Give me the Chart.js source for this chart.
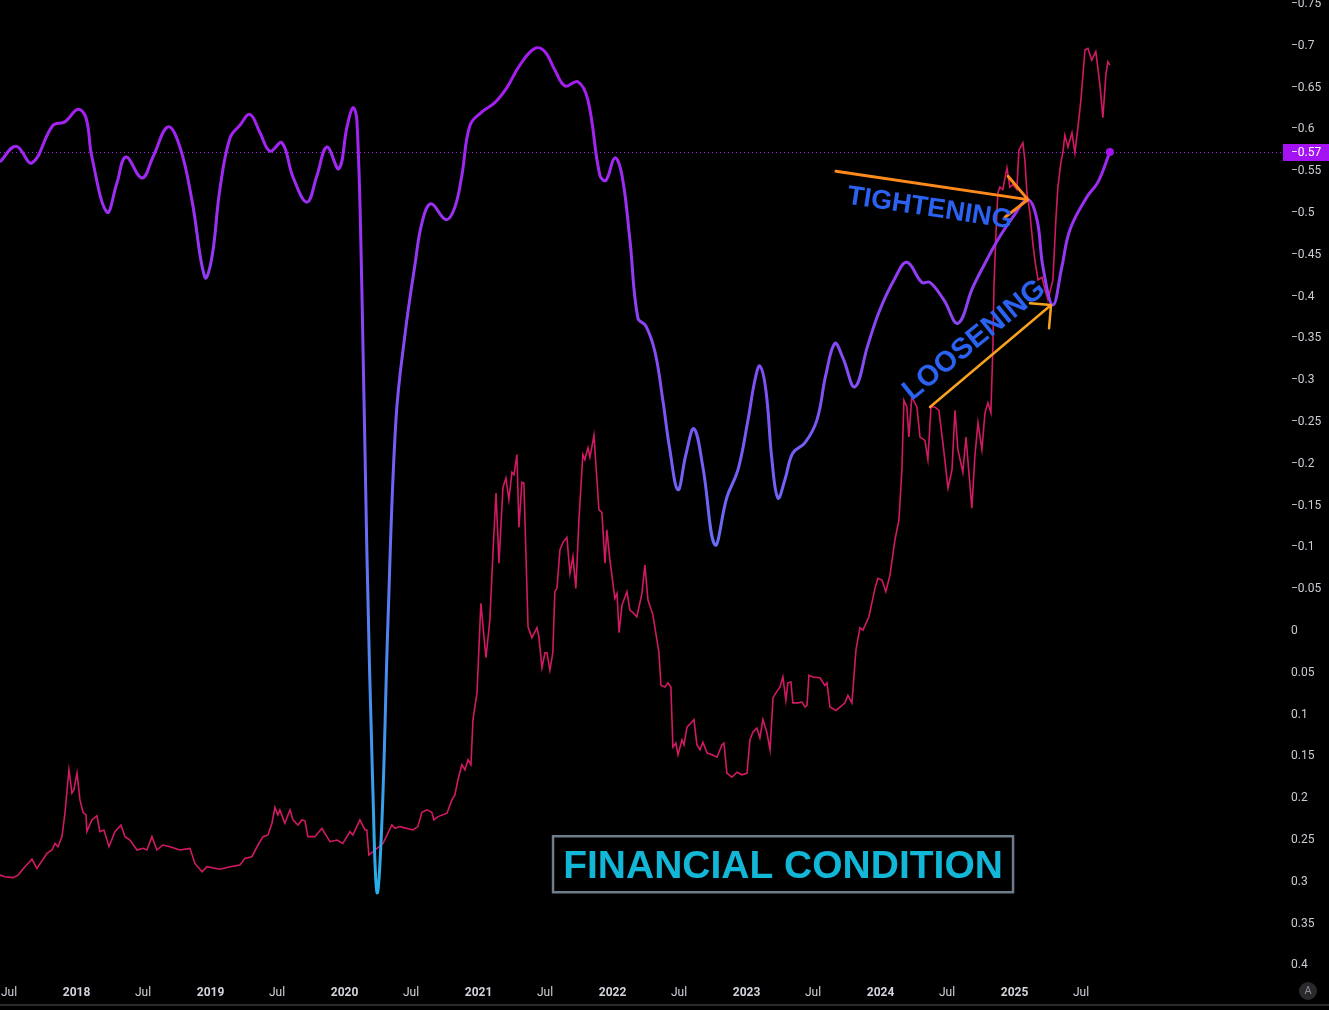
<!DOCTYPE html>
<html>
<head>
<meta charset="utf-8">
<title>Financial Condition</title>
<script src="https://cdn.jsdelivr.net/npm/chart.js@4.4.1/dist/chart.umd.min.js"></script>
<style>
  html, body { margin: 0; padding: 0; background: #000; overflow: hidden; }
  #wrap { width: 1329px; height: 1010px; }
</style>
</head>
<body>
<div id="wrap"><canvas id="chartFinancial" width="1329" height="1010"></canvas></div>
<script>
// x values are decimal years, y values are index readings (axis is inverted)

// weekly index (red line)
var weeklyYears = [
    2017.428, 2017.465, 2017.525, 2017.563, 2017.615, 2017.667, 2017.704, 2017.779, 2017.816, 2017.839,
    2017.861, 2017.891, 2017.913, 2017.943, 2017.965, 2017.980, 2018.003, 2018.025, 2018.048, 2018.070,
    2018.077, 2018.114, 2018.152, 2018.174, 2018.204, 2018.242, 2018.286, 2018.331, 2018.361, 2018.398,
    2018.451, 2018.495, 2018.525, 2018.562, 2018.599, 2018.644, 2018.697, 2018.771, 2018.846, 2018.883,
    2018.936, 2018.973, 2019.069, 2019.145, 2019.219, 2019.256, 2019.308, 2019.354, 2019.391, 2019.428,
    2019.458, 2019.480, 2019.502, 2019.517, 2019.554, 2019.592, 2019.615, 2019.652, 2019.682, 2019.704,
    2019.726, 2019.778, 2019.831, 2019.853, 2019.891, 2019.943, 2019.987, 2020.040, 2020.062, 2020.114,
    2020.152, 2020.166, 2020.181, 2020.242, 2020.287, 2020.353, 2020.376, 2020.413, 2020.510, 2020.547,
    2020.577, 2020.614, 2020.651, 2020.666, 2020.697, 2020.764, 2020.801, 2020.823, 2020.846, 2020.875,
    2020.898, 2020.921, 2020.943, 2020.958, 2020.988, 2021.017, 2021.055, 2021.084, 2021.107, 2021.130,
    2021.152, 2021.182, 2021.204, 2021.226, 2021.249, 2021.264, 2021.286, 2021.301, 2021.323, 2021.338,
    2021.369, 2021.398, 2021.436, 2021.450, 2021.473, 2021.495, 2021.510, 2021.532, 2021.554, 2021.569,
    2021.585, 2021.607, 2021.630, 2021.659, 2021.682, 2021.704, 2021.726, 2021.749, 2021.778, 2021.793,
    2021.816, 2021.831, 2021.861, 2021.883, 2021.898, 2021.920, 2021.943, 2021.957, 2021.980, 2022.017,
    2022.033, 2022.048, 2022.070, 2022.107, 2022.129, 2022.152, 2022.181, 2022.219, 2022.241, 2022.264,
    2022.301, 2022.346, 2022.361, 2022.390, 2022.413, 2022.435, 2022.450, 2022.472, 2022.488, 2022.518,
    2022.533, 2022.555, 2022.585, 2022.607, 2022.629, 2022.652, 2022.674, 2022.705, 2022.742, 2022.779,
    2022.816, 2022.831, 2022.853, 2022.890, 2022.928, 2022.966, 2023.003, 2023.025, 2023.047, 2023.077,
    2023.099, 2023.122, 2023.152, 2023.175, 2023.197, 2023.219, 2023.249, 2023.271, 2023.293, 2023.308,
    2023.331, 2023.345, 2023.384, 2023.413, 2023.436, 2023.451, 2023.465, 2023.495, 2023.547, 2023.584,
    2023.600, 2023.622, 2023.667, 2023.697, 2023.734, 2023.756, 2023.786, 2023.816, 2023.846, 2023.868,
    2023.913, 2023.958, 2023.980, 2024.010, 2024.039, 2024.070, 2024.107, 2024.137, 2024.159, 2024.174,
    2024.196, 2024.211, 2024.233, 2024.271, 2024.294, 2024.331, 2024.353, 2024.376, 2024.405, 2024.435,
    2024.465, 2024.503, 2024.533, 2024.555, 2024.577, 2024.614, 2024.637, 2024.681, 2024.703, 2024.727,
    2024.756, 2024.779, 2024.801, 2024.823, 2024.838, 2024.846, 2024.861, 2024.875, 2024.890, 2024.912,
    2024.943, 2024.965, 2024.987, 2025.017, 2025.032, 2025.062, 2025.077, 2025.092, 2025.114, 2025.136,
    2025.151, 2025.175, 2025.204, 2025.227, 2025.249, 2025.286, 2025.308, 2025.323, 2025.345, 2025.360,
    2025.375, 2025.398, 2025.428, 2025.450, 2025.473, 2025.495, 2025.525, 2025.547, 2025.576, 2025.606,
    2025.637, 2025.659, 2025.681, 2025.696, 2025.711
];
var weeklyValues = [
    0.292, 0.294, 0.295, 0.292, 0.282, 0.273, 0.284, 0.266, 0.262, 0.254,
    0.258, 0.246, 0.218, 0.166, 0.194, 0.190, 0.170, 0.202, 0.217, 0.220,
    0.240, 0.226, 0.221, 0.240, 0.238, 0.258, 0.240, 0.232, 0.246, 0.250,
    0.262, 0.260, 0.262, 0.246, 0.262, 0.256, 0.258, 0.262, 0.260, 0.278,
    0.288, 0.282, 0.285, 0.282, 0.280, 0.272, 0.270, 0.256, 0.246, 0.244,
    0.230, 0.211, 0.220, 0.214, 0.230, 0.214, 0.226, 0.232, 0.226, 0.227,
    0.246, 0.246, 0.236, 0.242, 0.252, 0.250, 0.254, 0.240, 0.244, 0.226,
    0.238, 0.238, 0.268, 0.260, 0.254, 0.232, 0.236, 0.234, 0.238, 0.234,
    0.217, 0.214, 0.217, 0.226, 0.222, 0.218, 0.202, 0.196, 0.178, 0.160,
    0.166, 0.154, 0.160, 0.106, 0.074, -0.033, 0.032, -0.013, -0.093, -0.165,
    -0.081, -0.172, -0.183, -0.157, -0.190, -0.187, -0.211, -0.124, -0.178, -0.177,
    -0.005, 0.008, -0.004, 0.007, 0.044, 0.026, 0.026, 0.047, 0.026, -0.047,
    -0.051, -0.097, -0.106, -0.112, -0.069, -0.089, -0.051, -0.133, -0.211, -0.205,
    -0.219, -0.208, -0.234, -0.181, -0.145, -0.142, -0.081, -0.121, -0.085, -0.039,
    -0.045, 0.002, -0.031, -0.047, -0.025, -0.022, -0.017, -0.045, -0.079, -0.037,
    -0.019, 0.026, 0.065, 0.067, 0.062, 0.067, 0.139, 0.134, 0.148, 0.130,
    0.136, 0.115, 0.110, 0.106, 0.136, 0.142, 0.133, 0.146, 0.148, 0.151,
    0.136, 0.134, 0.170, 0.175, 0.169, 0.172, 0.170, 0.130, 0.121, 0.116,
    0.128, 0.106, 0.122, 0.142, 0.080, 0.074, 0.067, 0.055, 0.083, 0.062,
    0.061, 0.086, 0.086, 0.085, 0.091, 0.089, 0.053, 0.055, 0.056, 0.065,
    0.062, 0.091, 0.095, 0.091, 0.086, 0.077, 0.086, 0.023, -0.004, -0.001,
    -0.017, -0.051, -0.063, -0.061, -0.047, -0.067, -0.109, -0.133, -0.193, -0.276,
    -0.268, -0.232, -0.280, -0.268, -0.232, -0.228, -0.205, -0.268, -0.268, -0.264,
    -0.225, -0.171, -0.193, -0.264, -0.217, -0.190, -0.232, -0.147, -0.208, -0.249,
    -0.217, -0.261, -0.273, -0.261, -0.340, -0.412, -0.476, -0.524, -0.531, -0.528,
    -0.554, -0.531, -0.534, -0.528, -0.575, -0.584, -0.563, -0.524, -0.500, -0.464,
    -0.444, -0.420, -0.423, -0.408, -0.396, -0.420, -0.492, -0.531, -0.560, -0.572,
    -0.593, -0.579, -0.596, -0.572, -0.603, -0.635, -0.695, -0.697, -0.683, -0.693,
    -0.653, -0.614, -0.665, -0.681, -0.677
];

// smoothed index (gradient line)
var smoothYears = [
    2017.428, 2017.548, 2017.667, 2017.824, 2017.913, 2018.010, 2018.070, 2018.114, 2018.227, 2018.301,
    2018.368, 2018.488, 2018.570, 2018.682, 2018.771, 2018.860, 2018.958, 2019.010, 2019.069, 2019.145,
    2019.219, 2019.293, 2019.369, 2019.443, 2019.532, 2019.615, 2019.719, 2019.794, 2019.868, 2019.957,
    2020.018, 2020.062, 2020.092, 2020.129, 2020.166, 2020.211, 2020.242, 2020.279, 2020.324, 2020.383,
    2020.450, 2020.525, 2020.577, 2020.644, 2020.757, 2020.823, 2020.875, 2020.936, 2021.025, 2021.121,
    2021.211, 2021.308, 2021.420, 2021.495, 2021.569, 2021.645, 2021.741, 2021.816, 2021.905, 2021.950,
    2022.017, 2022.070, 2022.129, 2022.189, 2022.248, 2022.316, 2022.375, 2022.427, 2022.488, 2022.547,
    2022.607, 2022.674, 2022.764, 2022.853, 2022.936, 2023.010, 2023.062, 2023.099, 2023.144, 2023.189,
    2023.234, 2023.286, 2023.345, 2023.435, 2023.524, 2023.591, 2023.659, 2023.718, 2023.808, 2023.905,
    2023.994, 2024.107, 2024.196, 2024.308, 2024.368, 2024.472, 2024.577, 2024.688, 2024.793, 2024.875,
    2024.987, 2025.099, 2025.167, 2025.212, 2025.286, 2025.352, 2025.413, 2025.539, 2025.622, 2025.711
];
var smoothValues = [
    -0.561, -0.580, -0.560, -0.605, -0.609, -0.624, -0.614, -0.567, -0.501, -0.536,
    -0.567, -0.542, -0.567, -0.603, -0.579, -0.516, -0.423, -0.447, -0.528, -0.590,
    -0.605, -0.618, -0.596, -0.574, -0.584, -0.543, -0.513, -0.545, -0.579, -0.553,
    -0.603, -0.626, -0.611, -0.408, -0.097, 0.190, 0.313, 0.226, -0.013, -0.252,
    -0.354, -0.438, -0.488, -0.511, -0.492, -0.507, -0.545, -0.605, -0.621, -0.632,
    -0.650, -0.677, -0.697, -0.693, -0.671, -0.652, -0.657, -0.635, -0.545, -0.539,
    -0.566, -0.545, -0.468, -0.374, -0.365, -0.334, -0.276, -0.217, -0.169, -0.211,
    -0.242, -0.196, -0.103, -0.160, -0.193, -0.252, -0.300, -0.317, -0.288, -0.205,
    -0.159, -0.181, -0.213, -0.225, -0.252, -0.306, -0.344, -0.327, -0.292, -0.342,
    -0.384, -0.422, -0.441, -0.417, -0.417, -0.396, -0.368, -0.411, -0.444, -0.468,
    -0.495, -0.516, -0.492, -0.435, -0.390, -0.435, -0.480, -0.519, -0.537, -0.573
];

var yTicks = [-0.75, -0.7, -0.65, -0.6, -0.55, -0.5, -0.45, -0.4, -0.35, -0.3, -0.25, -0.2,
    -0.15, -0.1, -0.05, 0, 0.05, 0.1, 0.15, 0.2, 0.25, 0.3, 0.35, 0.4];
var xTickValues = [2017.496, 2018, 2018.496, 2019, 2019.496, 2020, 2020.496, 2021, 2021.496,
    2022, 2022.496, 2023, 2023.496, 2024, 2024.496, 2025, 2025.496];
var xTickLabels = ['Jul', '2018', 'Jul', '2019', 'Jul', '2020', 'Jul', '2021', 'Jul',
    '2022', 'Jul', '2023', 'Jul', '2024', 'Jul', '2025', 'Jul'];

var axisFont = "Roboto, 'Liberation Sans', sans-serif";
var noteFont = "'Liberation Sans', Arial, sans-serif";

// drawn annotations, placed in data units
var notes = [
    { text: 'TIGHTENING', x: 2024.369, y: -0.508, angle: 8.6, size: 27, color: '#2b62f2' },
    { text: 'LOOSENING', x: 2024.688, y: -0.350, angle: -39, size: 29, color: '#2b62f2' }
];
var arrows = [
    { color: '#ff8a1c', width: 3, from: [2023.667, -0.550], to: [2025.100, -0.516],
      head: [[2024.951, -0.544], [2024.928, -0.495]] },
    { color: '#f8a21e', width: 2.5, from: [2024.369, -0.268], to: [2025.272, -0.390],
      head: [[2025.115, -0.392], [2025.257, -0.362]] }
];
var titleBox = { text: 'FINANCIAL CONDITION', x: 2023.272, y: 0.279, w: 460, h: 56, size: 39 };

function toPoints(xs, ys) {
    return xs.map(function(x, i) { return { x: x, y: ys[i] }; });
}

function fmt(v) {
    return String(Number(v.toFixed(2))).replace('-', '\u2212');
}

function smoothGradient(context) {
    var chart = context.chart;
    if (!chart.chartArea) return '#a61df0';
    var ys = chart.scales.y;
    var g = chart.ctx.createLinearGradient(0, ys.getPixelForValue(-0.65), 0, ys.getPixelForValue(0.3));
    g.addColorStop(0, '#a61df0');
    g.addColorStop(0.158, '#9b30f3');
    g.addColorStop(0.316, '#8848f5');
    g.addColorStop(0.526, '#6d66f6');
    g.addColorStop(0.737, '#4c8af0');
    g.addColorStop(1, '#2aaee8');
    return g;
}

var lastValue = smoothValues[smoothValues.length - 1];

var chartDecor = {
    id: 'chartDecor',
    beforeDraw: function(chart) {
        var c = chart.ctx;
        c.save();
        c.fillStyle = '#000';
        c.fillRect(0, 0, chart.width, chart.height);
        c.restore();
    },
    beforeDatasetsDraw: function(chart) {
        var c = chart.ctx, a = chart.chartArea;
        var py = Math.round(chart.scales.y.getPixelForValue(lastValue)) + 0.5;
        c.save();
        c.strokeStyle = '#a31cf0';
        c.lineWidth = 1;
        c.setLineDash([1, 3]);
        c.beginPath();
        c.moveTo(a.left, py);
        c.lineTo(a.right, py);
        c.stroke();
        c.restore();
    },
    afterDraw: function(chart) {
        var c = chart.ctx, a = chart.chartArea;
        var sx = chart.scales.x, sy = chart.scales.y;
        function px(p) { return [sx.getPixelForValue(p[0]), sy.getPixelForValue(p[1])]; }

        // arrows
        arrows.forEach(function(ar) {
            var f = px(ar.from), t = px(ar.to);
            c.save();
            c.strokeStyle = ar.color;
            c.lineWidth = ar.width;
            c.lineCap = 'round';
            c.beginPath();
            c.moveTo(f[0], f[1]);
            c.lineTo(t[0], t[1]);
            ar.head.forEach(function(h) {
                var hp = px(h);
                c.moveTo(hp[0], hp[1]);
                c.lineTo(t[0], t[1]);
            });
            c.stroke();
            c.restore();
        });

        // rotated labels
        notes.forEach(function(n) {
            var p = px([n.x, n.y]);
            c.save();
            c.translate(p[0], p[1]);
            c.rotate(n.angle * Math.PI / 180);
            c.font = 'bold ' + n.size + 'px ' + noteFont;
            c.fillStyle = n.color;
            c.textAlign = 'center';
            c.textBaseline = 'alphabetic';
            c.fillText(n.text, 0, n.size * 0.36);
            c.restore();
        });

        // title box
        var tp = px([titleBox.x, titleBox.y]);
        c.save();
        c.fillStyle = '#000';
        c.fillRect(tp[0] - titleBox.w / 2, tp[1] - titleBox.h / 2, titleBox.w, titleBox.h);
        c.strokeStyle = '#6f7c8a';
        c.lineWidth = 2.5;
        c.strokeRect(tp[0] - titleBox.w / 2, tp[1] - titleBox.h / 2, titleBox.w, titleBox.h);
        c.font = 'bold ' + titleBox.size + 'px ' + noteFont;
        c.fillStyle = '#12b6d6';
        c.textAlign = 'center';
        c.textBaseline = 'alphabetic';
        c.fillText(titleBox.text, tp[0], tp[1] + titleBox.size * 0.36);
        c.restore();

        // last value tag on the price axis
        var ly = sy.getPixelForValue(lastValue);
        c.save();
        c.fillStyle = '#a512f2';
        c.fillRect(a.right, Math.round(ly) - 8, chart.width - a.right, 17);
        c.fillStyle = '#ffffff';
        c.font = '12px ' + axisFont;
        c.textBaseline = 'middle';
        c.textAlign = 'left';
        c.fillText(fmt(lastValue), a.right + 8, Math.round(ly) + 0.5);
        c.restore();

        // bottom bar and auto-scale button
        c.save();
        c.fillStyle = '#2a2a2e';
        c.fillRect(0, chart.height - 6, chart.width, 2);
        c.beginPath();
        c.arc(chart.width - 21, 991, 9, 0, Math.PI * 2);
        c.fillStyle = '#2a2a2c';
        c.fill();
        c.fillStyle = '#8a8d94';
        c.font = '11px ' + axisFont;
        c.textAlign = 'center';
        c.textBaseline = 'middle';
        c.fillText('A', chart.width - 21, 991.5);
        c.restore();
    }
};

var ctx = document.getElementById('chartFinancial');
var chartFinancial = new Chart(ctx, {
    type: 'line',
    data: {
        datasets: [{
            label: 'Smoothed',
            data: toPoints(smoothYears, smoothValues),
            borderColor: smoothGradient,
            borderWidth: 3,
            tension: 0.4,
            pointRadius: function(c) { return c.dataIndex === smoothValues.length - 1 ? 4 : 0; },
            pointBackgroundColor: '#a512f2',
            pointBorderWidth: 0,
            order: 0
        }, {
            label: 'Weekly',
            data: toPoints(weeklyYears, weeklyValues),
            borderColor: '#d11a63',
            borderWidth: 1.6,
            tension: 0,
            pointRadius: 0,
            order: 1
        }]
    },
    options: {
        responsive: false,
        animation: false,
        devicePixelRatio: 1,
        layout: { padding: 0, autoPadding: false },
        plugins: {
            legend: { display: false },
            tooltip: { enabled: false }
        },
        scales: {
            x: {
                type: 'linear',
                min: 2017.4284,
                max: 2027.003,
                grid: { display: false, drawTicks: false },
                border: { display: false },
                afterBuildTicks: function(s) {
                    s.ticks = xTickValues.map(function(v) { return { value: v }; });
                },
                afterFit: function(s) {
                    s.height = 34;
                    s.paddingLeft = 0;
                    s.paddingRight = 0;
                },
                ticks: {
                    autoSkip: false,
                    maxRotation: 0,
                    padding: 10,
                    color: '#d1d4dc',
                    font: function(c) {
                        var lbl = xTickLabels[c.index] || '';
                        return { family: axisFont, size: 12, weight: /^\d/.test(lbl) ? 'bold' : 'normal' };
                    },
                    callback: function(v, i) { return xTickLabels[i]; }
                }
            },
            y: {
                type: 'linear',
                position: 'right',
                reverse: true,
                min: -0.7548,
                max: 0.4127,
                grid: { display: false, drawTicks: false },
                border: { display: false },
                afterBuildTicks: function(s) {
                    s.ticks = yTicks.map(function(v) { return { value: v }; });
                },
                afterFit: function(s) {
                    s.width = 46;
                    s.paddingTop = 0;
                    s.paddingBottom = 0;
                },
                ticks: {
                    autoSkip: false,
                    padding: 8,
                    color: '#c9ccd3',
                    font: { family: axisFont, size: 12 },
                    callback: function(v) { return fmt(v); }
                }
            }
        }
    },
    plugins: [chartDecor]
});
</script>
</body>
</html>
